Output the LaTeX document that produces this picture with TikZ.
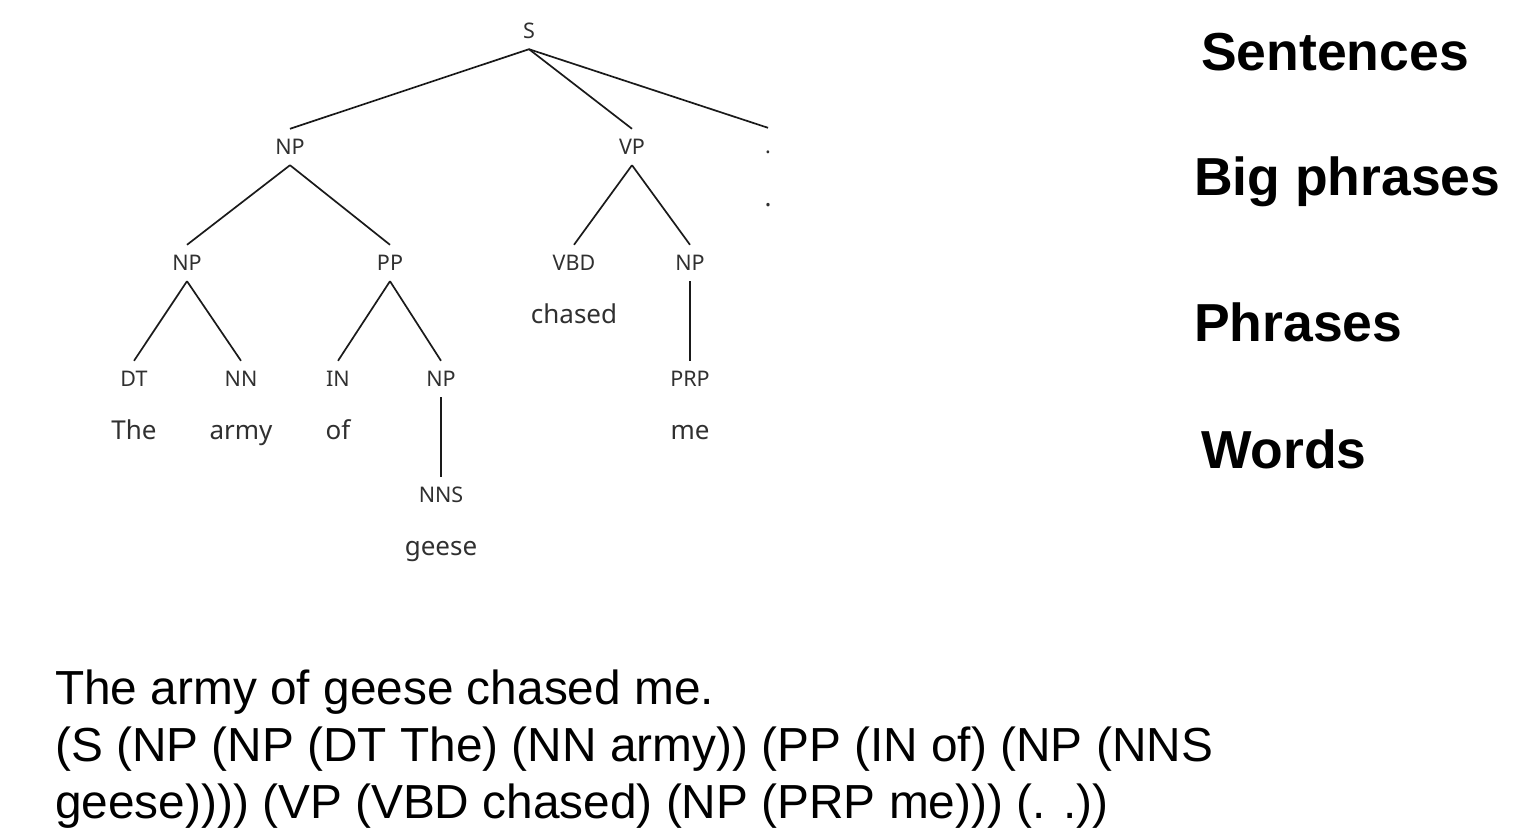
\documentclass[tikz,border=0pt]{standalone}
\usepackage{fontspec}
\setmainfont{Liberation Sans}
\newfontfamily\treefont{Noto Sans}
\definecolor{treegray}{HTML}{303030}
\definecolor{edgegray}{HTML}{1A1A1A}
\tikzset{
  lbl/.style={font=\treefont\fontsize{21.5}{25}\selectfont, text=treegray, text height=15pt, text depth=0pt, inner sep=0pt, minimum height=36pt, anchor=center},
  wrd/.style={font=\treefont\fontsize{26}{30}\selectfont, text=treegray, inner sep=0pt, anchor=base},
  edge/.style={draw=edgegray, line width=1.7pt},
  level/.style={font=\bfseries\fontsize{53.5}{60}\selectfont, inner sep=0pt, anchor=base west},
  plain/.style={font=\fontsize{47.8}{57}\selectfont, inner sep=0pt, anchor=base west}
}
\begin{document}
\begin{tikzpicture}[x=1pt,y=-1pt]
\useasboundingbox (0,0) rectangle (1540,832);
% tree labels
\node[lbl] (S) at (529,31) {S};
\node[lbl] (NP1) at (290,147) {NP};
\node[lbl] (VP) at (632,147) {VP};
\node[lbl] (PU) at (768,146) {.};
\node[lbl] (NP2) at (187,263) {NP};
\node[lbl] (PP) at (390,263) {PP};
\node[lbl] (VBD) at (574,263) {VBD};
\node[lbl] (NP4) at (690,263) {NP};
\node[lbl] (DT) at (134,379) {DT};
\node[lbl] (NN) at (241,379) {NN};
\node[lbl] (IN) at (338,379) {IN};
\node[lbl] (NP3) at (441,379) {NP};
\node[lbl] (PRP) at (690,379) {PRP};
\node[lbl] (NNS) at (441,495) {NNS};
% words
\node[wrd] (wdot) at (768,206) {.};
\node[wrd] (wchased) at (574,323) {chased};
\node[wrd] (wthe) at (134,439) {The};
\node[wrd] (warmy) at (241,439) {army};
\node[wrd] (wof) at (338,439) {of};
\node[wrd] (wme) at (690,439) {me};
\node[wrd] (wgeese) at (441,555) {geese};
% edges
\draw[edge] (S.south) -- (NP1.north);
\draw[edge] (S.south) -- (VP.north);
\draw[edge] (S.south) -- (PU.north);
\draw[edge] (NP1.south) -- (NP2.north);
\draw[edge] (NP1.south) -- (PP.north);
\draw[edge] (VP.south) -- (VBD.north);
\draw[edge] (VP.south) -- (NP4.north);
\draw[edge] (NP2.south) -- (DT.north);
\draw[edge] (NP2.south) -- (NN.north);
\draw[edge] (PP.south) -- (IN.north);
\draw[edge] (PP.south) -- (NP3.north);
\draw[edge] (NP3.south) -- (NNS.north);
\draw[edge] (NP4.south) -- (PRP.north);
% level labels
\node[level] (lsent) at (1201,71) {Sentences};
\node[level] (lbig) at (1194,195) {Big phrases};
\node[level] (lphr) at (1194,341) {Phrases};
\node[level] (lwords) at (1201,468) {Words};
% bottom text
\node[plain] (t1) at (55,704) {The army of geese chased me.};
\node[plain] (t2) at (55,761) {(S (NP (NP (DT The) (NN army)) (PP (IN of) (NP (NNS};
\node[plain] (t3) at (55,818) {geese)))) (VP (VBD chased) (NP (PRP me))) (. .))};
\end{tikzpicture}
\end{document}
